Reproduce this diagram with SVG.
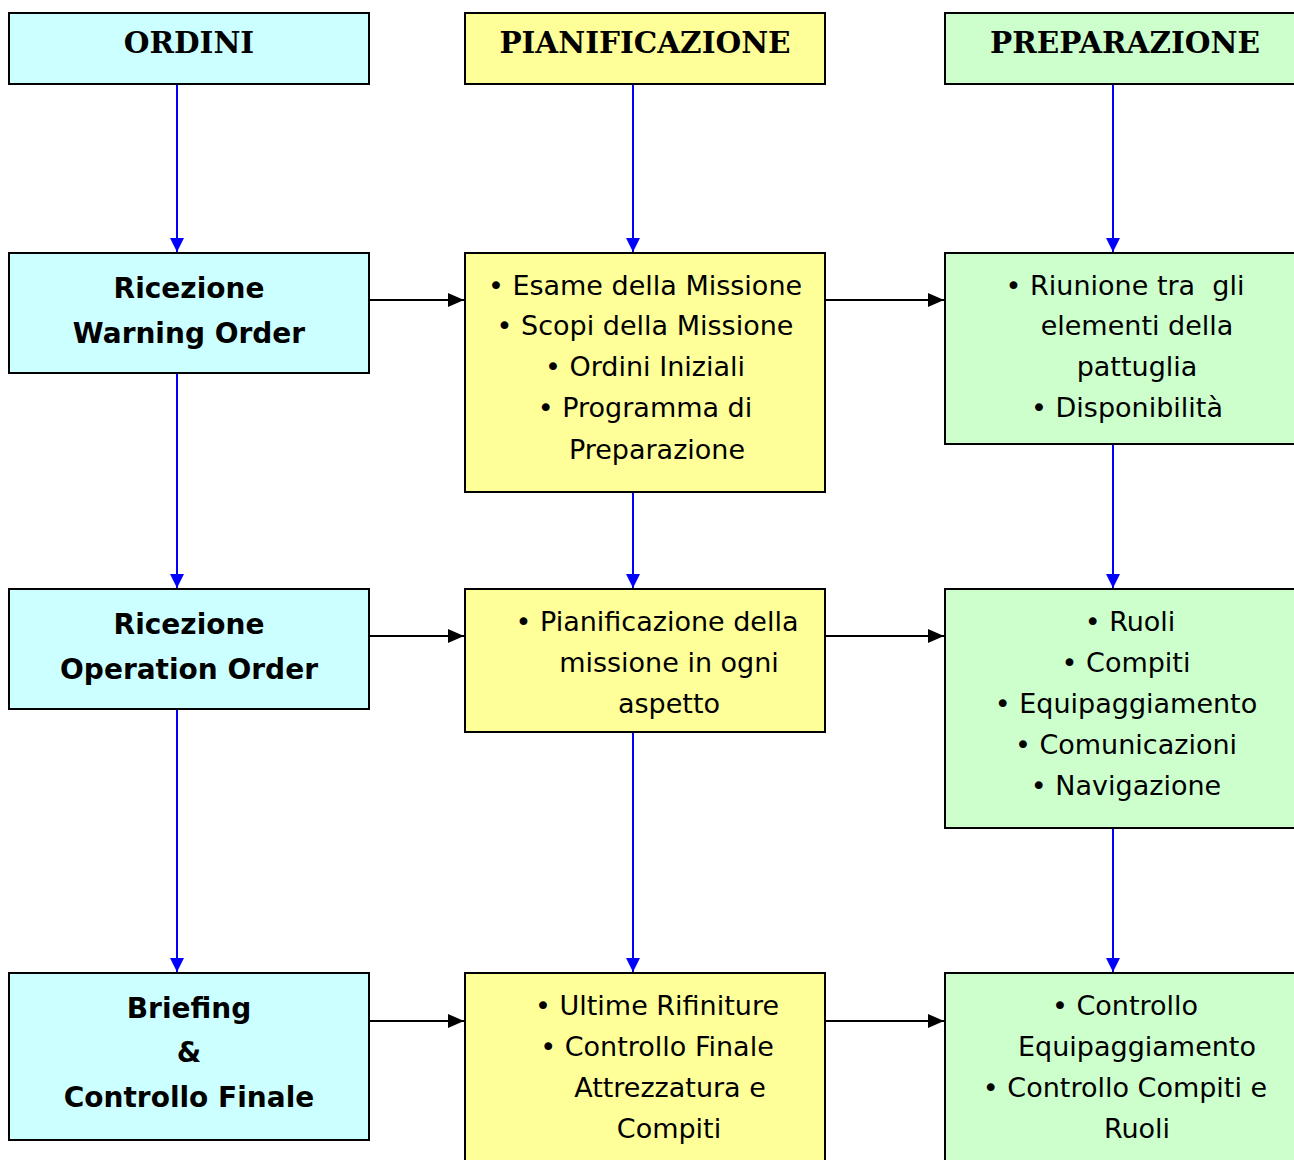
<svg xmlns="http://www.w3.org/2000/svg" width="1294" height="1160" viewBox="0 0 1294 1160">
<style>
.box{stroke:#000;stroke-width:2}
.c{fill:#CCFFFF}.y{fill:#FFFF99}.g{fill:#CCFFCC}
.hd{font-family:"DejaVu Serif",serif;font-weight:bold;font-size:29.5px;text-anchor:middle;fill:#000}
.b{font-family:"DejaVu Sans",sans-serif;font-weight:bold;font-size:28px;text-anchor:middle;fill:#000}
.t{font-family:"DejaVu Sans",sans-serif;font-size:27px;text-anchor:middle;fill:#000}
.v{stroke:#0000FF;stroke-width:2;fill:none}
.h{stroke:#000;stroke-width:2;fill:none}
</style>
<defs>
<marker id="ab" markerUnits="userSpaceOnUse" markerWidth="14" markerHeight="14" refX="14" refY="7" orient="auto"><path d="M0,0 L14,7 L0,14 Z" fill="#0000FF"/></marker>
<marker id="ak" markerUnits="userSpaceOnUse" markerWidth="16" markerHeight="14" refX="16" refY="7" orient="auto"><path d="M0,0 L16,7 L0,14 Z" fill="#000"/></marker>
</defs>
<rect width="1294" height="1160" fill="#fff"/>
<g id="connectors">
<line class="v" x1="177" y1="85" x2="177" y2="252" marker-end="url(#ab)"/>
<line class="v" x1="633" y1="85" x2="633" y2="252" marker-end="url(#ab)"/>
<line class="v" x1="1113" y1="85" x2="1113" y2="252" marker-end="url(#ab)"/>
<line class="v" x1="177" y1="374" x2="177" y2="588" marker-end="url(#ab)"/>
<line class="v" x1="633" y1="493" x2="633" y2="588" marker-end="url(#ab)"/>
<line class="v" x1="1113" y1="445" x2="1113" y2="588" marker-end="url(#ab)"/>
<line class="v" x1="177" y1="710" x2="177" y2="972" marker-end="url(#ab)"/>
<line class="v" x1="633" y1="733" x2="633" y2="972" marker-end="url(#ab)"/>
<line class="v" x1="1113" y1="829" x2="1113" y2="972" marker-end="url(#ab)"/>
<line class="h" x1="370" y1="300" x2="464" y2="300" marker-end="url(#ak)"/>
<line class="h" x1="826" y1="300" x2="944" y2="300" marker-end="url(#ak)"/>
<line class="h" x1="370" y1="636" x2="464" y2="636" marker-end="url(#ak)"/>
<line class="h" x1="826" y1="636" x2="944" y2="636" marker-end="url(#ak)"/>
<line class="h" x1="370" y1="1021" x2="464" y2="1021" marker-end="url(#ak)"/>
<line class="h" x1="826" y1="1021" x2="944" y2="1021" marker-end="url(#ak)"/>
</g>
<g id="ordini"><rect class="box c" x="9" y="13" width="360" height="71"/><text class="hd" x="189" y="53">ORDINI</text></g>
<g id="pianificazione"><rect class="box y" x="465" y="13" width="360" height="71"/><text class="hd" x="645" y="53">PIANIFICAZIONE</text></g>
<g id="preparazione"><rect class="box g" x="945" y="13" width="360" height="71"/><text class="hd" x="1125" y="53">PREPARAZIONE</text></g>

<g id="warning"><rect class="box c" x="9" y="253" width="360" height="120"/>
<text class="b" x="189" y="298">Ricezione</text><text class="b" x="189" y="343">Warning Order</text></g>
<g id="esame"><rect class="box y" x="465" y="253" width="360" height="239"/>
<text class="t" x="645" y="295">• Esame della Missione</text>
<text class="t" x="645" y="335">• Scopi della Missione</text>
<text class="t" x="645" y="376">• Ordini Iniziali</text>
<text class="t" x="645" y="417">• Programma di</text>
<text class="t" x="657" y="459">Preparazione</text></g>
<g id="riunione"><rect class="box g" x="945" y="253" width="360" height="191"/>
<text class="t" x="1125" y="295" style="white-space:pre">• Riunione tra  gli</text>
<text class="t" x="1137" y="335">elementi della</text>
<text class="t" x="1137" y="376">pattuglia</text>
<text class="t" x="1127" y="417">• Disponibilità</text></g>

<g id="operation"><rect class="box c" x="9" y="589" width="360" height="120"/>
<text class="b" x="189" y="634">Ricezione</text><text class="b" x="189" y="679">Operation Order</text></g>
<g id="pianif"><rect class="box y" x="465" y="589" width="360" height="143"/>
<text class="t" x="657" y="631">• Pianificazione della</text>
<text class="t" x="669" y="672">missione in ogni</text>
<text class="t" x="669" y="713">aspetto</text></g>
<g id="ruoli"><rect class="box g" x="945" y="589" width="360" height="239"/>
<text class="t" x="1130" y="631">• Ruoli</text>
<text class="t" x="1126" y="672">• Compiti</text>
<text class="t" x="1126" y="713">• Equipaggiamento</text>
<text class="t" x="1126" y="754">• Comunicazioni</text>
<text class="t" x="1126" y="795">• Navigazione</text></g>

<g id="briefing"><rect class="box c" x="9" y="973" width="360" height="167"/>
<text class="b" x="189" y="1018">Briefing</text><text class="b" x="189" y="1062">&amp;</text><text class="b" x="189" y="1107">Controllo Finale</text></g>
<g id="ultime"><rect class="box y" x="465" y="973" width="360" height="200"/>
<text class="t" x="657" y="1015">• Ultime Rifiniture</text>
<text class="t" x="657" y="1056">• Controllo Finale</text>
<text class="t" x="670" y="1097">Attrezzatura e</text>
<text class="t" x="669" y="1138">Compiti</text></g>
<g id="controllo"><rect class="box g" x="945" y="973" width="360" height="200"/>
<text class="t" x="1125" y="1015">• Controllo</text>
<text class="t" x="1137" y="1056">Equipaggiamento</text>
<text class="t" x="1125" y="1097">• Controllo Compiti e</text>
<text class="t" x="1137" y="1138">Ruoli</text></g>
</svg>
